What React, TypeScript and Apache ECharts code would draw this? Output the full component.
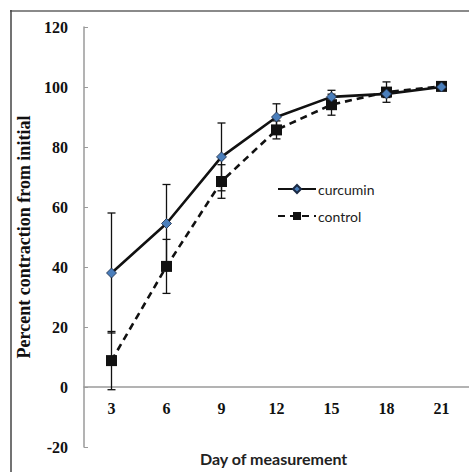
import React, { useEffect, useRef } from "react";
import * as echarts from "echarts";

const days = ["3", "6", "9", "12", "15", "18", "21"];
const curcumin = [38, 54.5, 76.7, 90, 96.7, 97.7, 100];
const curcuminErr = [20, 13, 11.3, 4.4, 2.2, 1.2, 0.8];
const control = [8.8, 40.2, 68.5, 85.7, 94.1, 98.3, 100.2];
const controlErr = [9.7, 9, 5.6, 3, 3.5, 3.4, 1];
const yTicks = { min: -20, max: 120, interval: 20 };

const serif = "'Liberation Serif', 'Times New Roman', serif";
const sans = "Lato, 'Open Sans', sans-serif";

function errData(vals: number[], errs: number[]) {
  return vals.map((v, i) => [i, v - errs[i], v + errs[i]]);
}

function errorRender(params: any, api: any) {
  const x = api.value(0);
  const lo = api.coord([x, api.value(1)]);
  const hi = api.coord([x, api.value(2)]);
  const w = 4;
  const style = { stroke: "#111", lineWidth: 1.3 };
  return {
    type: "group",
    children: [
      { type: "line", shape: { x1: lo[0], y1: lo[1], x2: hi[0], y2: hi[1] }, style },
      { type: "line", shape: { x1: lo[0] - w, y1: lo[1], x2: lo[0] + w, y2: lo[1] }, style },
      { type: "line", shape: { x1: hi[0] - w, y1: hi[1], x2: hi[0] + w, y2: hi[1] }, style },
    ],
  };
}

export default function App() {
  const ref = useRef<HTMLDivElement>(null);
  useEffect(() => {
    if (!ref.current) return;
    const chart = echarts.init(ref.current, undefined, { renderer: "svg" });
    // grid spans 27..447 px for -20..120 -> zero line sits 60 px above grid bottom
    const gridTop = 27;
    const gridBottomPx = 447;
    const zeroOffset = -((0 - yTicks.min) / (yTicks.max - yTicks.min)) * (gridBottomPx - gridTop);
    chart.setOption({
      animation: false,
      backgroundColor: "#fff",
      grid: { left: 84, right: -1, top: gridTop, bottom: 472 - gridBottomPx, containLabel: false },
      legend: {
        orient: "vertical",
        left: 272,
        top: 177,
        itemWidth: 38,
        itemHeight: 10,
        itemGap: 13,
        textStyle: { fontFamily: sans, fontSize: 14, color: "#222", padding: [0, 0, 0, -3] },
        data: ["curcumin", "control"],
      },
      graphic: [
        { type: "line", shape: { x1: 10, y1: 11, x2: 469, y2: 11 }, style: { stroke: "#8a8a8a", lineWidth: 2 } },
        { type: "line", shape: { x1: 11, y1: 10, x2: 11, y2: 472 }, style: { stroke: "#444", lineWidth: 1.5 } },
        {
          type: "text",
          left: 200,
          top: 450,
          style: { text: "Day of measurement", fontFamily: sans, fontSize: 16, fontWeight: "bold", fill: "#222" },
        },
      ],
      xAxis: {
        type: "category",
        data: days,
        boundaryGap: true,
        offset: zeroOffset,
        axisLine: { onZero: false, lineStyle: { color: "#9a9a9a", width: 1.5 } },
        axisTick: { inside: true, length: 4, interval: 0, lineStyle: { color: "#9a9a9a" } },
        axisLabel: { fontFamily: serif, fontSize: 16, fontWeight: "bold", color: "#111", margin: 13, interval: 0 },
        splitLine: { show: false },
      },
      yAxis: {
        type: "value",
        min: yTicks.min,
        max: yTicks.max,
        interval: yTicks.interval,
        name: "Percent contraction from initial",
        nameLocation: "middle",
        nameGap: 47,
        nameTextStyle: { fontFamily: serif, fontSize: 18, fontWeight: "bold", color: "#111" },
        axisLine: { show: true, lineStyle: { color: "#9a9a9a", width: 1.5 } },
        axisTick: { show: true, inside: true, length: 4, lineStyle: { color: "#9a9a9a" } },
        axisLabel: { fontFamily: serif, fontSize: 16, fontWeight: "bold", color: "#111", margin: 16 },
        splitLine: { show: false },
      },
      series: [
        {
          type: "custom",
          name: "errCurcumin",
          renderItem: errorRender,
          data: errData(curcumin, curcuminErr),
          z: 1,
          silent: true,
        },
        {
          type: "custom",
          name: "errControl",
          renderItem: errorRender,
          data: errData(control, controlErr),
          z: 1,
          silent: true,
        },
        {
          name: "control",
          type: "line",
          data: control,
          symbol: "rect",
          symbolSize: 11,
          itemStyle: { color: "#111" },
          lineStyle: { color: "#111", width: 2.6, type: [7, 5] },
          z: 3,
        },
        {
          name: "curcumin",
          type: "line",
          data: curcumin,
          symbol: "diamond",
          symbolSize: 10,
          itemStyle: { color: "#4a7ebb", borderColor: "#1a2a44", borderWidth: 0.8 },
          lineStyle: { color: "#111", width: 2.6 },
          z: 4,
        },
      ],
    });
    return () => chart.dispose();
  }, []);
  return <div ref={ref} style={{ position: "fixed", left: 0, top: 0, width: 469, height: 472 }} />;
}
